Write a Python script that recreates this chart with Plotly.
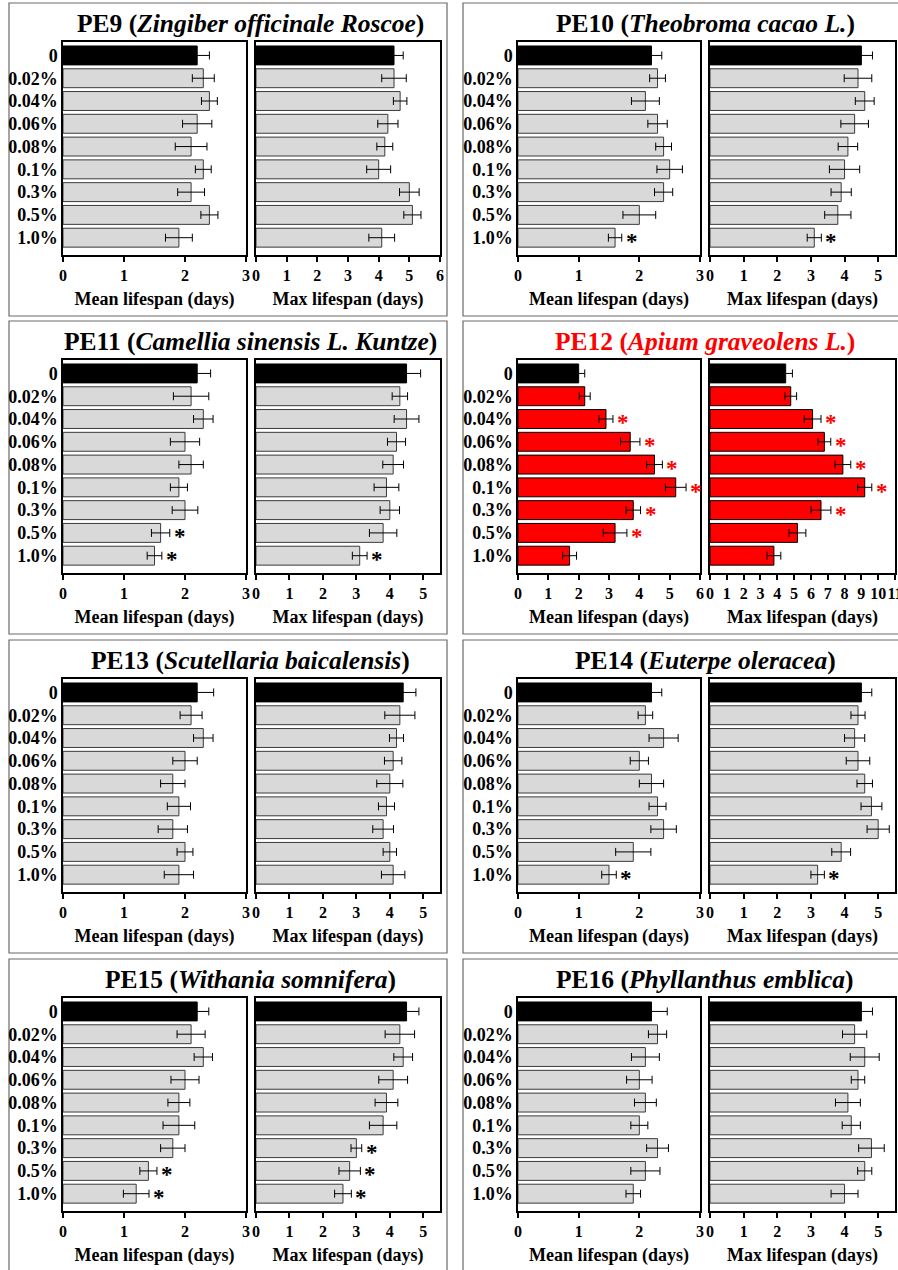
import plotly.graph_objects as go

W, H = 898, 1270

categories = ["0", "0.02%", "0.04%", "0.06%", "0.08%", "0.1%", "0.3%", "0.5%", "1.0%"]

# ---- data ----
pe9_mean = [2.2, 2.3, 2.4, 2.2, 2.1, 2.3, 2.1, 2.4, 1.9]
pe9_mean_err = [0.2, 0.18, 0.13, 0.24, 0.26, 0.13, 0.22, 0.14, 0.22]
pe9_mean_sig = []
pe9_max = [4.5, 4.5, 4.7, 4.3, 4.2, 4.0, 5.0, 5.1, 4.1]
pe9_max_err = [0.3, 0.4, 0.22, 0.33, 0.26, 0.39, 0.32, 0.28, 0.42]
pe9_max_sig = []

pe10_mean = [2.2, 2.3, 2.1, 2.3, 2.4, 2.5, 2.4, 2.0, 1.6]
pe10_mean_err = [0.17, 0.13, 0.23, 0.16, 0.13, 0.21, 0.15, 0.27, 0.11]
pe10_mean_sig = [8]
pe10_max = [4.5, 4.4, 4.6, 4.3, 4.1, 4.0, 3.9, 3.8, 3.1]
pe10_max_err = [0.33, 0.41, 0.28, 0.41, 0.29, 0.45, 0.3, 0.39, 0.21]
pe10_max_sig = [8]

pe11_mean = [2.2, 2.1, 2.3, 2.0, 2.1, 1.9, 2.0, 1.6, 1.5]
pe11_mean_err = [0.22, 0.29, 0.16, 0.24, 0.2, 0.14, 0.21, 0.15, 0.12]
pe11_mean_sig = [7, 8]
pe11_max = [4.5, 4.3, 4.5, 4.2, 4.1, 3.9, 4.0, 3.8, 3.1]
pe11_max_err = [0.42, 0.23, 0.37, 0.27, 0.31, 0.37, 0.29, 0.41, 0.22]
pe11_max_sig = [8]

pe12_mean = [2.0, 2.2, 2.9, 3.7, 4.5, 5.2, 3.8, 3.2, 1.7]
pe12_mean_err = [0.2, 0.18, 0.23, 0.32, 0.26, 0.34, 0.24, 0.39, 0.23]
pe12_mean_sig = [2, 3, 4, 5, 6, 7]
pe12_max = [4.5, 4.8, 6.1, 6.8, 7.9, 9.2, 6.6, 5.2, 3.8]
pe12_max_err = [0.4, 0.35, 0.5, 0.38, 0.47, 0.42, 0.59, 0.5, 0.41]
pe12_max_sig = [2, 3, 4, 5, 6]

pe13_mean = [2.2, 2.1, 2.3, 2.0, 1.8, 1.9, 1.8, 2.0, 1.9]
pe13_mean_err = [0.27, 0.18, 0.16, 0.2, 0.2, 0.19, 0.24, 0.13, 0.24]
pe13_mean_sig = []
pe13_max = [4.4, 4.3, 4.2, 4.1, 4.0, 3.9, 3.8, 4.0, 4.1]
pe13_max_err = [0.38, 0.45, 0.21, 0.26, 0.39, 0.24, 0.31, 0.2, 0.35]
pe13_max_sig = []

pe14_mean = [2.2, 2.1, 2.4, 2.0, 2.2, 2.3, 2.4, 1.9, 1.5]
pe14_mean_err = [0.17, 0.12, 0.24, 0.15, 0.2, 0.14, 0.21, 0.29, 0.12]
pe14_mean_sig = [8]
pe14_max = [4.5, 4.4, 4.3, 4.4, 4.6, 4.8, 5.0, 3.9, 3.2]
pe14_max_err = [0.31, 0.21, 0.3, 0.35, 0.23, 0.31, 0.33, 0.28, 0.2]
pe14_max_sig = [8]

pe15_mean = [2.2, 2.1, 2.3, 2.0, 1.9, 1.9, 1.8, 1.4, 1.2]
pe15_mean_err = [0.19, 0.23, 0.15, 0.23, 0.18, 0.26, 0.2, 0.14, 0.21]
pe15_mean_sig = [7, 8]
pe15_max = [4.5, 4.3, 4.4, 4.1, 3.9, 3.8, 3.0, 2.8, 2.6]
pe15_max_err = [0.37, 0.44, 0.28, 0.43, 0.34, 0.41, 0.16, 0.32, 0.25]
pe15_max_sig = [6, 7, 8]

pe16_mean = [2.2, 2.3, 2.1, 2.0, 2.1, 2.0, 2.3, 2.1, 1.9]
pe16_mean_err = [0.26, 0.15, 0.23, 0.21, 0.18, 0.14, 0.18, 0.24, 0.12]
pe16_mean_sig = []
pe16_max = [4.5, 4.3, 4.6, 4.4, 4.1, 4.2, 4.8, 4.6, 4.0]
pe16_max_err = [0.33, 0.36, 0.43, 0.2, 0.37, 0.27, 0.38, 0.21, 0.4]
pe16_max_sig = []

titles = [
    ("PE9", "Zingiber officinale Roscoe"),
    ("PE10", "Theobroma cacao L."),
    ("PE11", "Camellia sinensis L. Kuntze"),
    ("PE12", "Apium graveolens L."),
    ("PE13", "Scutellaria baicalensis"),
    ("PE14", "Euterpe oleracea"),
    ("PE15", "Withania somnifera"),
    ("PE16", "Phyllanthus emblica"),
]
mean_ranges = [3, 3, 3, 6, 3, 3, 3, 3]
max_ranges = [6, 5.5, 5.5, 11, 5.5, 5.5, 5.5, 5.5]
highlight = [False, False, False, True, False, False, False, False]

panel_data = [
    (pe9_mean, pe9_mean_err, pe9_mean_sig, pe9_max, pe9_max_err, pe9_max_sig),
    (pe10_mean, pe10_mean_err, pe10_mean_sig, pe10_max, pe10_max_err, pe10_max_sig),
    (pe11_mean, pe11_mean_err, pe11_mean_sig, pe11_max, pe11_max_err, pe11_max_sig),
    (pe12_mean, pe12_mean_err, pe12_mean_sig, pe12_max, pe12_max_err, pe12_max_sig),
    (pe13_mean, pe13_mean_err, pe13_mean_sig, pe13_max, pe13_max_err, pe13_max_sig),
    (pe14_mean, pe14_mean_err, pe14_mean_sig, pe14_max, pe14_max_err, pe14_max_sig),
    (pe15_mean, pe15_mean_err, pe15_mean_sig, pe15_max, pe15_max_err, pe15_max_sig),
    (pe16_mean, pe16_mean_err, pe16_mean_sig, pe16_max, pe16_max_err, pe16_max_sig),
]

# ---- geometry (pixels) ----
FONT = "Liberation Serif, Times New Roman, serif"
col_geom = [
    dict(mean=(63, 246), mx=(256, 440), box=(9, 447), cx=251),
    dict(mean=(518, 700), mx=(710, 895), box=(463, 912), cx=705),
]
row_off = [0, 318, 637, 956]
PLOT_TOP, PLOT_BOT = 42, 255
TITLE_Y = 23
BOX_TOP, BOX_BOT = 3, 316


def fx(x):
    return x / W


def fy(y):
    return 1 - y / H


fig = go.Figure()
layout = dict(
    width=W, height=H, margin=dict(l=0, r=0, t=0, b=0, autoexpand=False),
    paper_bgcolor="white", plot_bgcolor="white", showlegend=False,
    font=dict(family=FONT, color="black"),
)
annotations = []
shapes = []

GRAY = "#d9d9d9"
RED = "#ff0000"
ax_i = 0
for p, (m, me, ms, x, xe, xs) in enumerate(panel_data):
    row, col = divmod(p, 2)
    cg = col_geom[col]
    off = row_off[row]
    ydom = [fy(PLOT_BOT + off), fy(PLOT_TOP + off)]
    fill = RED if highlight[p] else GRAY
    star_color = RED if highlight[p] else "black"
    for k, (vals, errs, sig, rng, dom, label) in enumerate([
        (m, me, ms, mean_ranges[p], cg["mean"], "Mean lifespan (days)"),
        (x, xe, xs, max_ranges[p], cg["mx"], "Max lifespan (days)"),
    ]):
        ax_i += 1
        xa = "xaxis" if ax_i == 1 else f"xaxis{ax_i}"
        ya = "yaxis" if ax_i == 1 else f"yaxis{ax_i}"
        xref = "x" if ax_i == 1 else f"x{ax_i}"
        yref = "y" if ax_i == 1 else f"y{ax_i}"
        colors = ["black"] + [fill] * (len(vals) - 1)
        line_colors = ["black"] + (["black"] * (len(vals) - 1) if highlight[p] else ["#3a3a3a"] * (len(vals) - 1))
        fig.add_trace(go.Bar(
            x=vals, y=list(range(len(categories))), orientation="h",
            xaxis=xref, yaxis=yref, width=0.83,
            marker=dict(color=colors, line=dict(color=line_colors, width=1)),
            error_x=dict(type="data", array=errs, color="black", thickness=1, width=4),
            hoverinfo="skip",
        ))
        layout[xa] = dict(
            domain=[fx(dom[0]), fx(dom[1])], anchor=yref, range=[0, rng],
            dtick=1, tick0=0, ticks="outside", ticklen=5, tickwidth=1.5, tickcolor="black",
            showline=True, mirror=True, linecolor="black", linewidth=1.5,
            showgrid=False, zeroline=False, fixedrange=True, automargin=False,
            tickangle=0, ticklabeloverflow="allow",
            tickfont=dict(family=FONT, size=16, weight="bold"),
            title=dict(text=label, font=dict(family=FONT, size=18, weight="bold"), standoff=9),
        )
        layout[ya] = dict(
            domain=ydom, anchor=xref, range=[8.76, -0.59],
            tickvals=list(range(len(categories))),
            ticktext=categories if k == 0 else [""] * len(categories),
            showticklabels=(k == 0), ticks="",
            showline=True, mirror=True, linecolor="black", linewidth=1.5,
            showgrid=False, zeroline=False, fixedrange=True, automargin=False,
            tickfont=dict(family=FONT, size=18, weight="bold"),
            ticklabelstandoff=0,
        )
        for i in sig:
            annotations.append(dict(
                x=vals[i] + errs[i], y=i, xref=xref, yref=yref,
                text="*", showarrow=False, xanchor="left", yanchor="middle",
                xshift=2, yshift=-4,
                font=dict(family=FONT, size=23, color=star_color, weight="bold"),
            ))
    # panel title
    tcol = RED if highlight[p] else "black"
    code, name = titles[p]
    annotations.append(dict(
        x=fx(cg["cx"]), y=fy(TITLE_Y + off), xref="paper", yref="paper",
        text=f"<b>{code} (<i>{name}</i>)</b>", showarrow=False,
        xanchor="center", yanchor="middle",
        font=dict(family=FONT, size=25.5, color=tcol),
    ))
    # panel box
    shapes.append(dict(
        type="rect", xref="paper", yref="paper",
        x0=fx(cg["box"][0]), x1=fx(cg["box"][1]),
        y0=fy(BOX_BOT + off), y1=fy(BOX_TOP + off),
        line=dict(color="#6a6a6a", width=1.2), fillcolor="rgba(0,0,0,0)", layer="below",
    ))

layout["annotations"] = annotations
layout["shapes"] = shapes
fig.update_layout(**layout)
fig.write_html(
    "out.html",
    config={"displayModeBar": False},
    post_script="document.body.style.margin='0px';document.body.style.overflow='hidden';",
)
